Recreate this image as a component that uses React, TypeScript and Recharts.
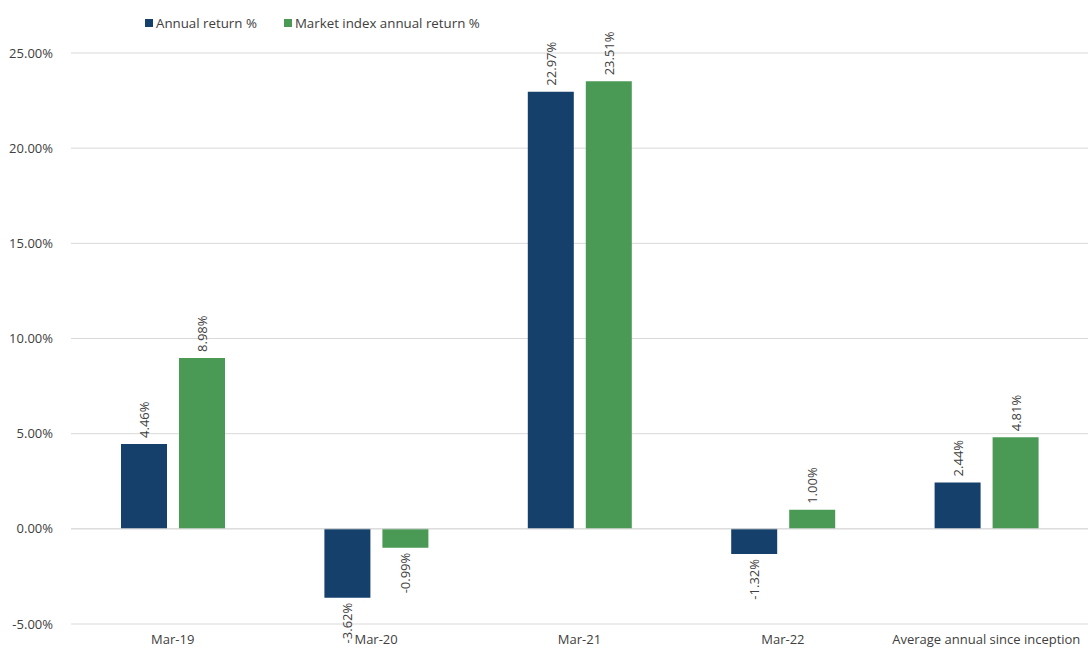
import { BarChart, Bar, XAxis, YAxis, CartesianGrid, LabelList, ReferenceLine } from "recharts"

const categories = ["Mar-19", "Mar-20", "Mar-21", "Mar-22", "Average annual since inception"]
const annualReturn = [4.46, -3.62, 22.97, -1.32, 2.44]
const marketReturn = [8.98, -0.99, 23.51, 1.0, 4.81]
const yTicks = [-5, 0, 5, 10, 15, 20, 25]

const BLUE = "#14406b"
const GREEN = "#4a9a55"
const TEXT = "#404040"
const FONT = "'Open Sans', sans-serif"
const FS = 13

const data = categories.map((name, i) => ({
    name,
    annual: annualReturn[i],
    market: marketReturn[i],
}))

const RotatedLabel = (props: any) => {
    const { x, y, width, height, value } = props
    const cx = x + width / 2
    const top = Math.min(y, y + height)
    const bottom = Math.max(y, y + height)
    const positive = value >= 0
    const ly = positive ? top - 6 : bottom + 5
    return (
        <text
            x={cx}
            y={ly}
            transform={`rotate(-90 ${cx} ${ly})`}
            textAnchor={positive ? "start" : "end"}
            dominantBaseline="central"
            fill={TEXT}
            fontSize={FS}
            fontFamily={FONT}
        >
            {value.toFixed(2)}%
        </text>
    )
}

const LegendBox = () => (
    <div style={{ position: "absolute", top: 14, left: 145, display: "flex", gap: 27, fontFamily: FONT, fontSize: 13.3, color: TEXT, zIndex: 2 }}>
        <div style={{ display: "flex", alignItems: "center", gap: 3 }}>
            <span style={{ width: 8, height: 8, background: BLUE, display: "inline-block" }} />
            Annual return %
        </div>
        <div style={{ display: "flex", alignItems: "center", gap: 3 }}>
            <span style={{ width: 8, height: 8, background: GREEN, display: "inline-block" }} />
            Market index annual return %
        </div>
    </div>
)

export default function App() {
    return (
        <div style={{ position: "absolute", left: 0, top: 0, width: 1088, height: 651, background: "#fff" }}>
            <LegendBox />
            <BarChart
                width={1088}
                height={651}
                data={data}
                margin={{ top: 53, right: 0, bottom: 0, left: 0 }}
                barSize={46}
                barGap={12}
            >
                <CartesianGrid vertical={false} stroke="#d9d9d9" />
                <XAxis
                    dataKey="name"
                    height={27}
                    axisLine={false}
                    tickLine={false}
                    tick={{ fill: TEXT, fontSize: FS, fontFamily: FONT }}
                    tickMargin={5}
                    interval={0}
                />
                <YAxis
                    width={71}
                    domain={[-5, 25]}
                    ticks={yTicks}
                    axisLine={false}
                    tickLine={false}
                    tickMargin={12}
                    tickFormatter={(v: number) => `${v.toFixed(2)}%`}
                    tick={{ fill: TEXT, fontSize: FS, fontFamily: FONT }}
                />
                <ReferenceLine y={0} stroke="#d9d9d9" />
                <Bar dataKey="annual" fill={BLUE} isAnimationActive={false}>
                    <LabelList dataKey="annual" content={<RotatedLabel />} />
                </Bar>
                <Bar dataKey="market" fill={GREEN} isAnimationActive={false}>
                    <LabelList dataKey="market" content={<RotatedLabel />} />
                </Bar>
            </BarChart>
        </div>
    )
}
